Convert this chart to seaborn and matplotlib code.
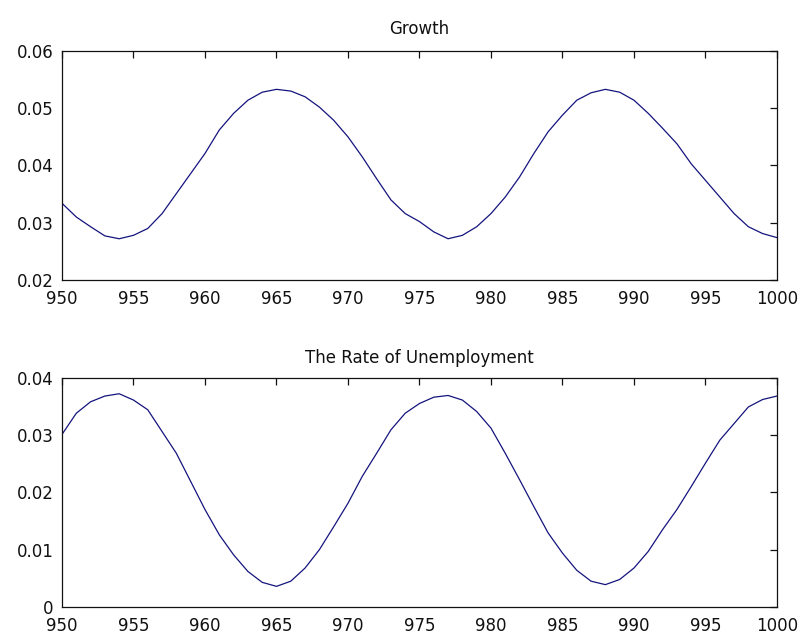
import matplotlib
matplotlib.use("Agg")
import matplotlib.pyplot as plt
import seaborn as sns
import numpy as np
import pandas as pd

years = list(range(950, 1001))
growth = [0.0334, 0.0310, 0.0293, 0.0277, 0.0272, 0.0278, 0.0290, 0.0316, 0.0351, 0.0386,
          0.0421, 0.0462, 0.0491, 0.0514, 0.0528, 0.0533, 0.0530, 0.0520, 0.0502, 0.0479,
          0.0450, 0.0415, 0.0377, 0.0340, 0.0316, 0.0302, 0.0284, 0.0272, 0.0278, 0.0293,
          0.0316, 0.0345, 0.0380, 0.0421, 0.0459, 0.0488, 0.0514, 0.0527, 0.0533, 0.0528,
          0.0514, 0.0491, 0.0465, 0.0438, 0.0403, 0.0374, 0.0345, 0.0316, 0.0293, 0.0281,
          0.0274]
unemployment = [0.0301, 0.0338, 0.0358, 0.0368, 0.0372, 0.0361, 0.0344, 0.0306, 0.0268, 0.0219,
                0.0170, 0.0126, 0.0091, 0.0062, 0.0043, 0.0036, 0.0045, 0.0068, 0.0100, 0.0140,
                0.0181, 0.0228, 0.0268, 0.0309, 0.0338, 0.0355, 0.0366, 0.0369, 0.0361, 0.0341,
                0.0312, 0.0268, 0.0222, 0.0175, 0.0129, 0.0094, 0.0064, 0.0045, 0.0039, 0.0048,
                0.0068, 0.0097, 0.0135, 0.0170, 0.0210, 0.0251, 0.0291, 0.0320, 0.0349, 0.0362,
                0.0368]
titles = ["Growth", "The Rate of Unemployment"]
x_ticks = [950, 955, 960, 965, 970, 975, 980, 985, 990, 995, 1000]
growth_yticks = [0.02, 0.03, 0.04, 0.05, 0.06]
growth_ylabels = ["0.02", "0.03", "0.04", "0.05", "0.06"]
unemp_yticks = [0.0, 0.01, 0.02, 0.03, 0.04]
unemp_ylabels = ["0", "0.01", "0.02", "0.03", "0.04"]

sns.set_style("white")
plt.rcParams['font.family'] = ['DejaVu Sans']

fig = plt.figure(figsize=(8.03, 6.35), dpi=100)
ax1 = fig.add_axes([0.0772, 0.5591, 0.8904, 0.3606])
ax2 = fig.add_axes([0.0772, 0.0441, 0.8904, 0.3611])

df = pd.DataFrame({"year": years, "growth": growth, "unemployment": unemployment})
line_color = "#14147e"

panels = [
    (ax1, "growth", titles[0], growth_yticks, growth_ylabels, (0.02, 0.06), 12),
    (ax2, "unemployment", titles[1], unemp_yticks, unemp_ylabels, (0.0, 0.04), 10.5),
]
for ax, col, title, yt, yl, ylim, pad in panels:
    sns.lineplot(data=df, x="year", y=col, ax=ax, color=line_color, linewidth=0.9)
    ax.set_xlim(950, 1000)
    ax.set_ylim(*ylim)
    ax.set_xticks(x_ticks)
    ax.set_xticklabels([str(t) for t in x_ticks])
    ax.set_yticks(yt)
    ax.set_yticklabels(yl)
    ax.set_xlabel("")
    ax.set_ylabel("")
    ax.set_title(title, fontsize=12, pad=pad, color="#111111")
    ax.tick_params(direction="in", length=5, width=0.9, top=True, right=True,
                   labelsize=12, colors="#111111")
    ax.tick_params(axis="x", pad=7)
    ax.tick_params(axis="y", pad=6)
    for s in ax.spines.values():
        s.set_visible(True)
        s.set_color("#111111")
        s.set_linewidth(0.9)

fig.savefig("out.png", dpi=100, facecolor="white")
